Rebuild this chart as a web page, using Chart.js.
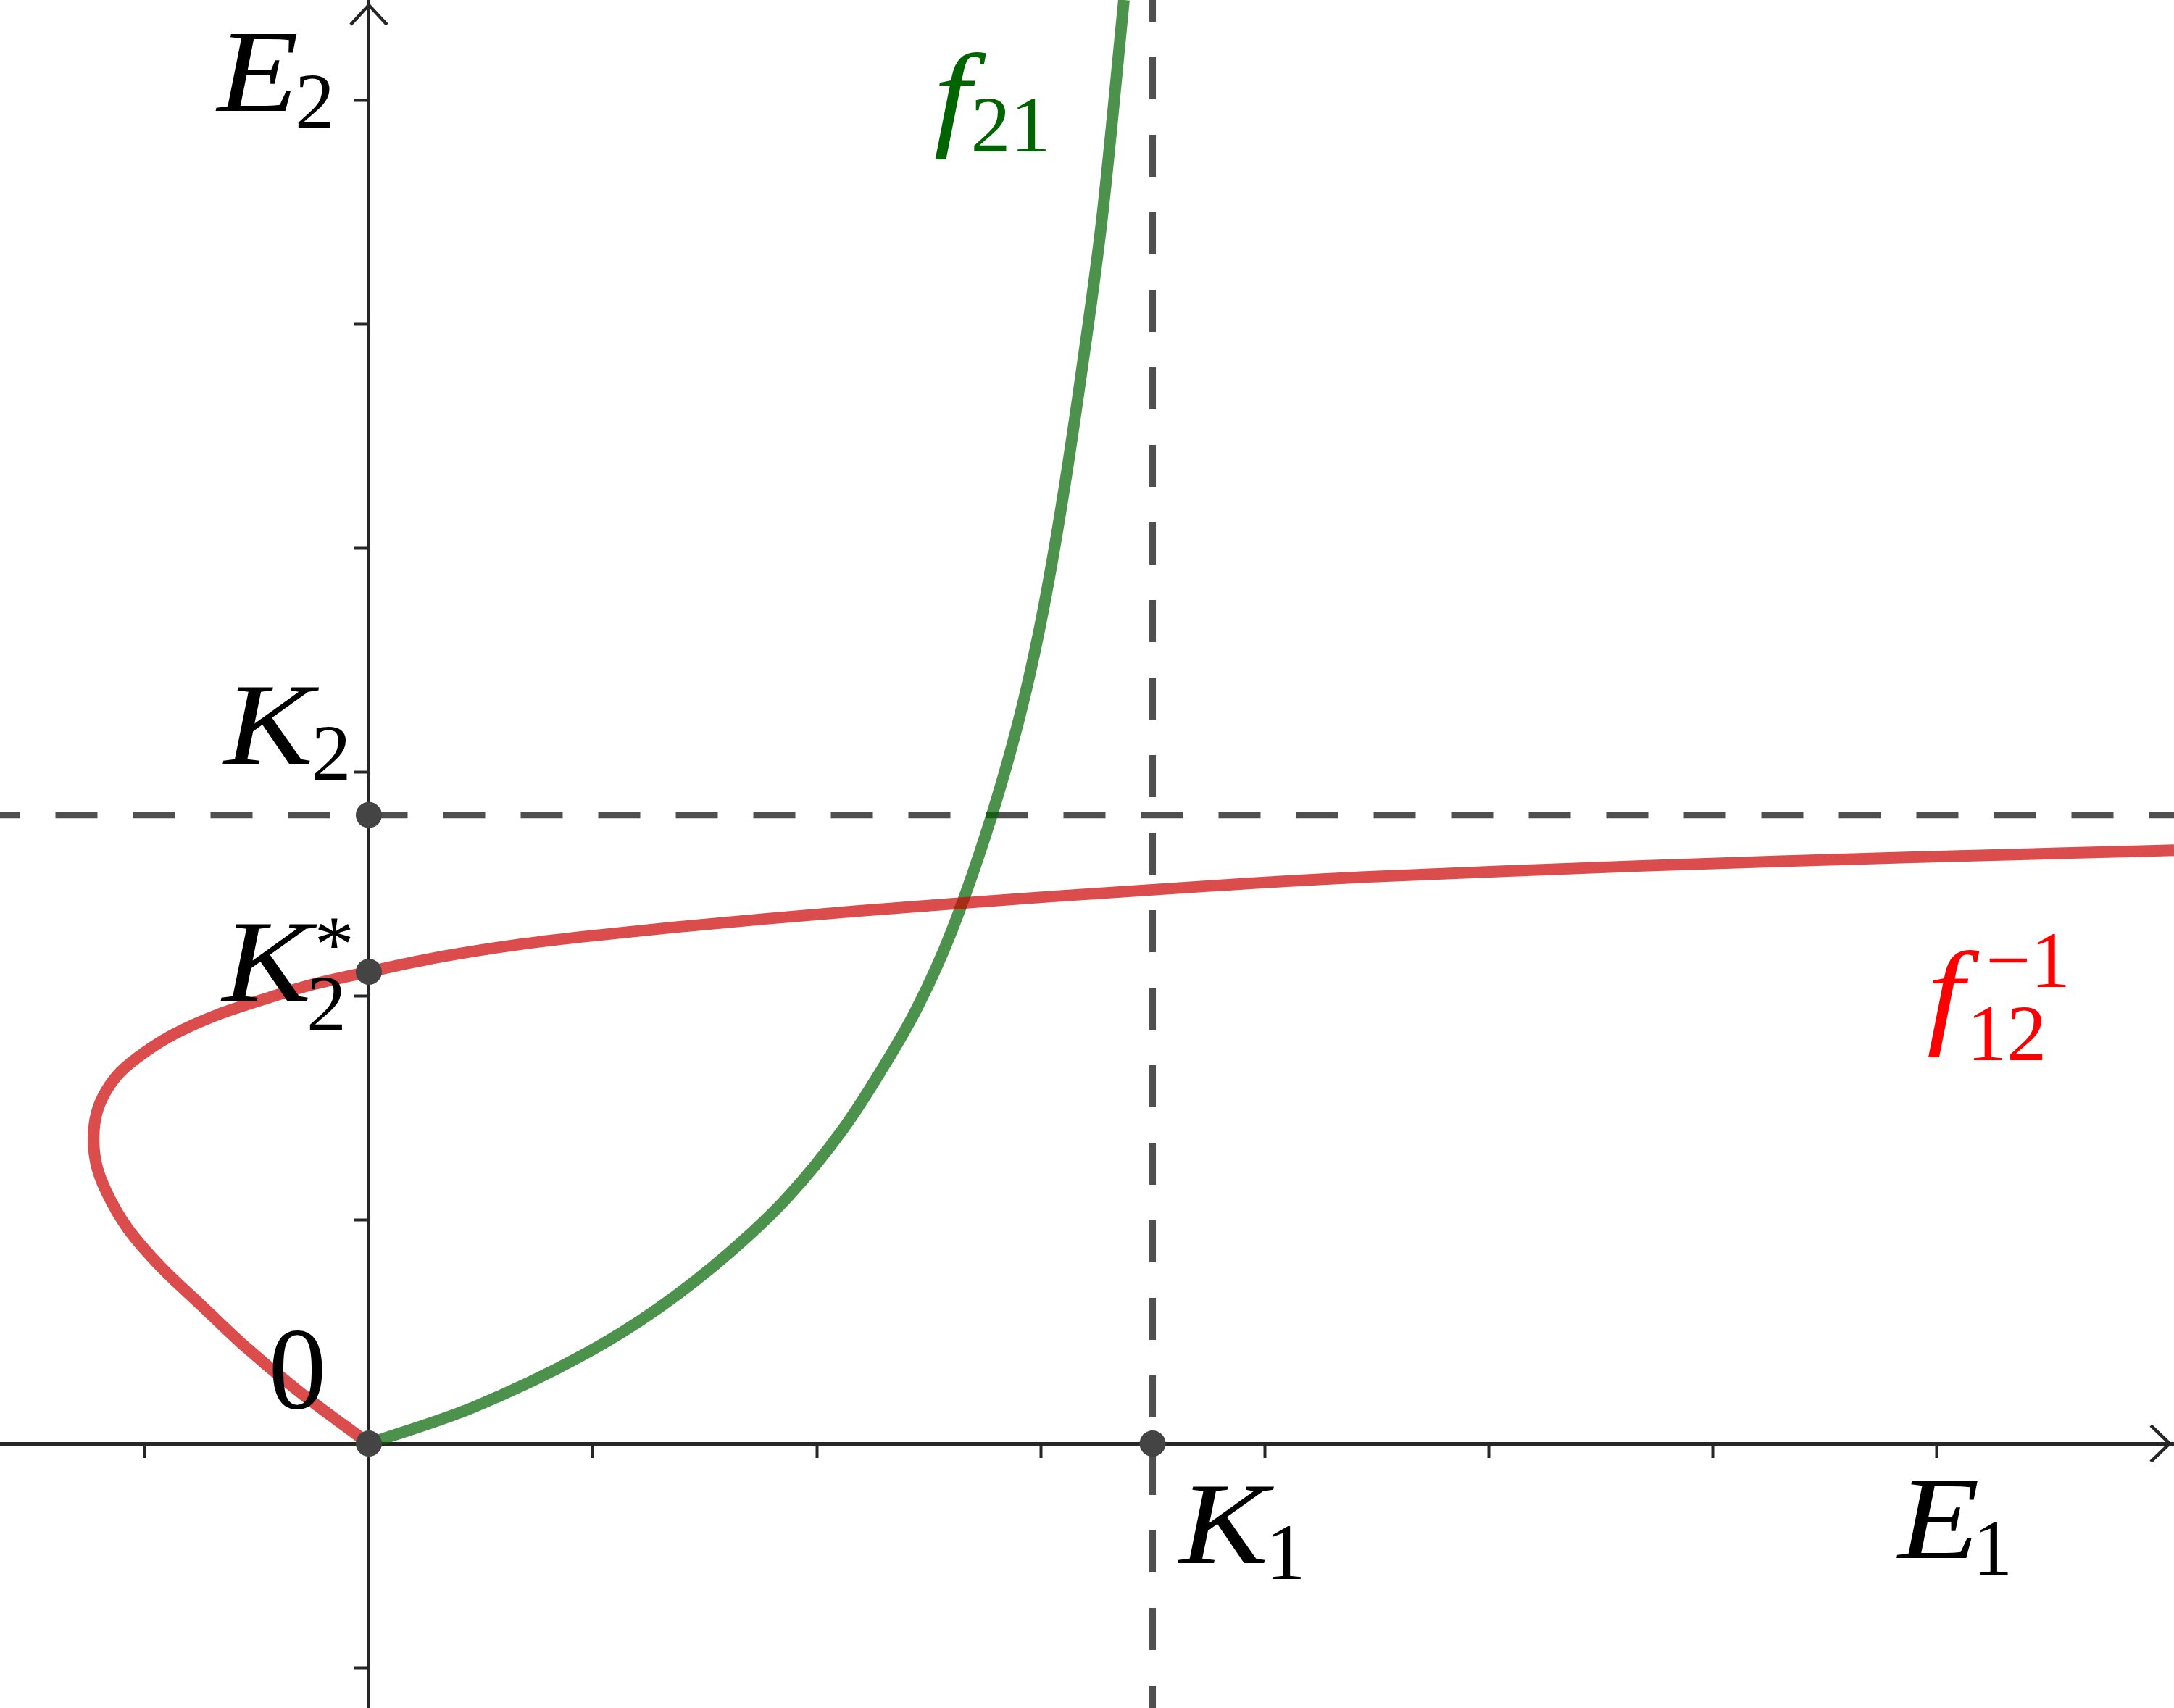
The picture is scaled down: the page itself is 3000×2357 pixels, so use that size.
<!DOCTYPE html>
<html>
<head>
<meta charset="utf-8">
<title>f21 y f12^-1</title>
<style>
  html, body { margin: 0; padding: 0; background: #ffffff; }
  #contenedor { width: 3000px; height: 2357px; }
</style>
<script src="https://cdn.jsdelivr.net/npm/chart.js@4.4.1/dist/chart.umd.min.js"></script>
</head>
<body>
<div id="contenedor"><canvas id="grafico" width="3000" height="2357"></canvas></div>
<script>
// rango de los ejes (misma unidad en x e y)
const xMin = -1.647, xMax = 8.061;
const yMin = -1.181, yMax = 6.447;

const K1 = 3.5;
const K2 = 2.807;
const K2estrella = 2.107;

const xTicks = [-1, 0, 1, 2, 3, 4, 5, 6, 7];
const yTicks = [-1, 0, 1, 2, 3, 4, 5, 6];

// curva verde f21
const f21X = [0, 0.466, 0.961, 1.291, 1.621, 1.870, 2.118, 2.283, 2.448, 2.603, 2.797, 2.927, 3.013, 3.099, 3.186, 3.275, 3.372];
const f21Y = [0, 0.162, 0.398, 0.603, 0.862, 1.100, 1.405, 1.658, 1.945, 2.290, 2.855, 3.330, 3.730, 4.225, 4.810, 5.480, 6.447];

// curva roja f12^-1 (sale del origen hacia la izquierda; y siempre crece)
const f12invX = [0, -0.310, -0.569, -0.752, -0.925, -1.076, -1.173, -1.216, -1.229, -1.216, -1.173, -1.108, -1.000, -0.871, -0.676, -0.460, -0.245, 0, 0.334, 0.664, 0.942, 1.355, 1.767, 2.180, 2.592, 3.006, 3.827, 4.446, 5.066, 5.685, 6.304, 6.923, 7.543, 8.061];
const f12invY = [0, 0.231, 0.448, 0.621, 0.785, 0.960, 1.127, 1.243, 1.358, 1.474, 1.575, 1.661, 1.748, 1.828, 1.915, 1.987, 2.052, 2.107, 2.176, 2.228, 2.262, 2.305, 2.343, 2.378, 2.410, 2.440, 2.495, 2.530, 2.556, 2.580, 2.601, 2.619, 2.636, 2.650];

// puntos marcados: 0, K2, K2*, K1
const puntosX = [0, 0, 0, K1];
const puntosY = [0, K2, K2estrella, 0];

const aPuntos = (xs, ys) => xs.map((x, i) => ({ x: x, y: ys[i] }));

// textos (estilo LaTeX)
const negro = '#000000';
const verde = '#006400';
const rojo = '#ff0000';
const etiquetas = [
  { t: 'E', x: -0.495, y: 5.951, it: true, size: 160, color: negro },
  { t: '2', x: -0.241, y: 5.874, it: false, size: 110, color: negro },
  { t: 'f', x: 2.605, y: 5.845, it: true, size: 160, color: verde },
  { t: '21', x: 2.866, y: 5.770, it: false, size: 110, color: verde },
  { t: 'K', x: -0.447, y: 3.036, it: true, size: 160, color: negro },
  { t: '2', x: -0.168, y: 2.964, it: false, size: 110, color: negro },
  { t: 'K', x: -0.456, y: 1.977, it: true, size: 160, color: negro },
  { t: '*', x: -0.154, y: 2.110, it: false, size: 110, color: negro },
  { t: '2', x: -0.189, y: 1.845, it: false, size: 110, color: negro },
  { t: '0', x: -0.319, y: 0.159, it: false, size: 160, color: negro },
  { t: 'K', x: 3.817, y: -0.534, it: true, size: 160, color: negro },
  { t: '1', x: 4.094, y: -0.605, it: false, size: 110, color: negro },
  { t: 'E', x: 7.011, y: -0.511, it: true, size: 160, color: negro },
  { t: '1', x: 7.251, y: -0.586, it: false, size: 110, color: negro },
  { t: 'f', x: 7.040, y: 1.835, it: true, size: 160, color: rojo },
  { t: '12', x: 7.314, y: 1.712, it: false, size: 110, color: rojo },
  { t: '\u22121', x: 7.409, y: 2.039, it: false, size: 110, color: rojo }
];

const familia = '"Liberation Serif", "DejaVu Serif", serif';
const colorEje = '#262626';

const flechasPlugin = {
  id: 'flechas',
  beforeDatasetsDraw(chart) {
    const ctx = chart.ctx;
    const x0 = chart.scales.x.getPixelForValue(0);
    const y0 = chart.scales.y.getPixelForValue(0);
    ctx.save();
    ctx.strokeStyle = colorEje;
    ctx.lineWidth = 4.5;
    ctx.beginPath();
    ctx.moveTo(x0 - 25, 34);
    ctx.lineTo(x0, 7);
    ctx.lineTo(x0 + 25, 34);
    ctx.moveTo(2994 - 26, y0 - 25);
    ctx.lineTo(2994, y0);
    ctx.lineTo(2994 - 26, y0 + 25);
    ctx.stroke();
    ctx.restore();
  }
};

const etiquetasPlugin = {
  id: 'etiquetas',
  afterDatasetsDraw(chart) {
    const ctx = chart.ctx;
    const sx = chart.scales.x, sy = chart.scales.y;
    etiquetas.forEach(e => {
      ctx.save();
      ctx.textAlign = 'center';
      ctx.textBaseline = 'alphabetic';
      ctx.font = (e.it ? 'italic ' : '') + e.size + 'px ' + familia;
      ctx.fillStyle = e.color;
      ctx.translate(sx.getPixelForValue(e.x), sy.getPixelForValue(e.y));
      // las letras de la fuente LaTeX son algo mas anchas
      if (e.it) ctx.scale(1.15, 1);
      ctx.fillText(e.t, 0, 0);
      ctx.restore();
    });
  }
};

const ejeComun = {
  type: 'linear',
  ticks: { display: false },
  grid: {
    display: true,
    drawOnChartArea: false,
    drawTicks: true,
    tickLength: 17,
    tickWidth: 4,
    tickColor: colorEje
  },
  border: { display: true, width: 5, color: colorEje }
};

function dibujar() {
  const chart = document.getElementById('grafico').getContext('2d');
  const grafico = new Chart(chart, {
    type: 'line',
    data: {
      datasets: [
        {
          label: 'puntos',
          data: aPuntos(puntosX, puntosY),
          showLine: false,
          pointRadius: 18,
          pointBackgroundColor: '#444444',
          pointBorderWidth: 0
        },
        {
          label: 'f12^-1',
          data: aPuntos(f12invX, f12invY),
          indexAxis: 'y',
          cubicInterpolationMode: 'monotone',
          borderColor: 'rgba(204, 0, 0, 0.7)',
          borderWidth: 16,
          pointRadius: 0,
          fill: false
        },
        {
          label: 'f21',
          data: aPuntos(f21X, f21Y),
          cubicInterpolationMode: 'monotone',
          borderColor: 'rgba(0, 100, 0, 0.7)',
          borderWidth: 16,
          pointRadius: 0,
          fill: false
        },
        {
          label: 'K1',
          data: [{ x: K1, y: yMax }, { x: K1, y: yMin }],
          borderColor: 'rgba(0, 0, 0, 0.69)',
          borderWidth: 9,
          borderDash: [58, 49],
          borderDashOffset: 28,
          pointRadius: 0,
          fill: false
        },
        {
          label: 'K2',
          data: [{ x: xMin, y: K2 }, { x: xMax, y: K2 }],
          borderColor: 'rgba(0, 0, 0, 0.69)',
          borderWidth: 9,
          borderDash: [58, 49],
          borderDashOffset: 30.5,
          pointRadius: 0,
          fill: false
        }
      ]
    },
    options: {
      responsive: false,
      animation: false,
      devicePixelRatio: 1,
      layout: { padding: 0, autoPadding: false },
      plugins: {
        legend: { display: false },
        tooltip: { enabled: false }
      },
      scales: {
        x: Object.assign({}, ejeComun, {
          min: xMin,
          max: xMax,
          position: { y: 0 },
          afterBuildTicks: s => { s.ticks = xTicks.map(v => ({ value: v })); }
        }),
        y: Object.assign({}, ejeComun, {
          min: yMin,
          max: yMax,
          position: { x: 0 },
          afterBuildTicks: s => { s.ticks = yTicks.map(v => ({ value: v })); }
        })
      }
    },
    plugins: [flechasPlugin, etiquetasPlugin]
  });
}

Promise.all([
  document.fonts.load('italic 160px "Liberation Serif"'),
  document.fonts.load('110px "Liberation Serif"')
]).then(dibujar, dibujar);
</script>
</body>
</html>
